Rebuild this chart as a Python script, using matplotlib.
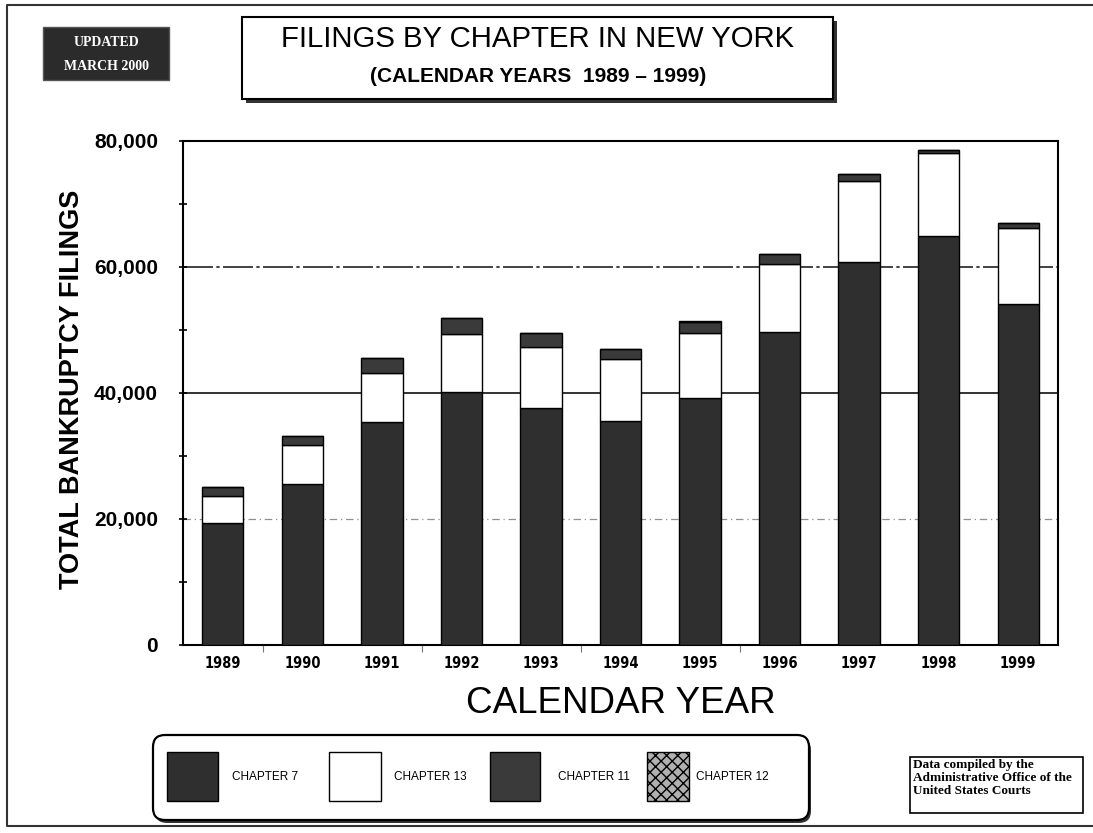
import numpy as np
import matplotlib
matplotlib.use("Agg")
import matplotlib.pyplot as plt
from matplotlib.patches import Rectangle, FancyBboxPatch
from matplotlib.lines import Line2D
from matplotlib.transforms import Affine2D

# data (filings per calendar year)
years = ["1989", "1990", "1991", "1992", "1993", "1994", "1995", "1996", "1997", "1998", "1999"]
ch7 = [19350, 25530, 35420, 40180, 37640, 35580, 39120, 49590, 60690, 64920, 54080]
ch13 = [4280, 6190, 7670, 9090, 9570, 9780, 10420, 10780, 12900, 13060, 12110]
ch11 = [1430, 1430, 2380, 2540, 2220, 1530, 1740, 1640, 1110, 530, 690]
ch12 = [30, 30, 40, 40, 40, 30, 30, 30, 30, 30, 30]
names = ["CHAPTER 7", "CHAPTER 13", "CHAPTER 11", "CHAPTER 12"]
y_ticks = [0, 20000, 40000, 60000, 80000]
y_labels = ["0", "20,000", "40,000", "60,000", "80,000"]

W, H = 1093, 833
SANS = ["Liberation Sans", "DejaVu Sans"]
SERIF = ["Liberation Serif", "DejaVu Serif"]

colors = ["#2f2f2f", "white", "#3a3a3a", "#b0b0b0"]
hatches = [None, None, None, "xxx"]

fig = plt.figure(figsize=(W / 100, H / 100), dpi=100)
# pixel coords, origin top-left
pix = Affine2D().scale(1 / W, -1 / H).translate(0, 1) + fig.transFigure

ax = fig.add_axes([183 / W, 1 - 645 / H, 875 / W, 504.4 / H])

x = np.arange(len(years))
bottom = np.zeros(len(years))
for vals, c, h in zip([ch7, ch13, ch11, ch12], colors, hatches):
    ax.bar(x, vals, 0.52, bottom=bottom, color=c, edgecolor="black",
           linewidth=1.0, hatch=h, zorder=3)
    bottom += np.array(vals)

# horizontal reference lines
ax.axhline(20000, color="#909090", lw=0.9, ls=(0, (6, 3, 1, 3)), zorder=1)
ax.axhline(40000, color="#222222", lw=1.3, zorder=1)
ax.axhline(60000, color="#222222", lw=1.2, ls=(0, (18, 2, 2, 2)), zorder=1)

ax.set_xlim(-0.5, 10.5)
ax.set_ylim(0, 80000)
ax.set_yticks(y_ticks, y_labels)
ax.set_yticks(np.arange(10000, 80000, 20000), minor=True)
ax.tick_params(axis="y", which="both", direction="inout", length=6, width=1.2, pad=15)
for t in ax.get_yticklabels():
    t.set_fontfamily(SANS)
    t.set_fontsize(15)
    t.set_fontweight("bold")

ax.set_xticks(x, years)
ax.set_xticks([0.5, 2.5, 4.5, 6.5], minor=True)
ax.tick_params(axis="x", which="major", length=0, pad=8)
ax.tick_params(axis="x", which="minor", length=5, width=0.8, color="#777777")
for t in ax.get_xticklabels():
    t.set_fontfamily("DejaVu Sans")
    t.set_fontstretch("condensed")
    t.set_fontsize(10.5)
    t.set_fontweight("bold")

for s in ax.spines.values():
    s.set_linewidth(1.5)

ax.set_ylabel("TOTAL BANKRUPTCY FILINGS", fontsize=19.5, fontweight="bold",
              family=SANS, va="center")
ax.yaxis.set_label_coords(-0.127, 0.506)
ax.set_xlabel("CALENDAR YEAR", fontsize=26.5, family=SANS, va="center")
ax.xaxis.set_label_coords(0.5, -0.115)

# outer frame of the page
fig.add_artist(Line2D([1093, 7, 7, 1093], [5, 5, 826, 826], color="#333333",
                      lw=1.5, transform=pix))

# title box with shadow
fig.add_artist(Rectangle((246, 21), 591, 82, facecolor="#333333", edgecolor="none", transform=pix))
fig.add_artist(Rectangle((242, 17), 591, 82, facecolor="white", edgecolor="black", lw=1.5, transform=pix))
fig.text(538 / W, 1 - 39 / H, "FILINGS BY CHAPTER IN NEW YORK", ha="center", va="center",
         fontsize=21.2, family=SANS)
fig.text(538 / W, 1 - 76 / H, "(CALENDAR YEARS  1989 \u2013 1999)", ha="center", va="center",
         fontsize=15, fontweight="bold", family=SANS)

# "updated" badge
fig.add_artist(Rectangle((43, 27), 126, 53, facecolor="#2b2b2b", edgecolor="#555555",
                         lw=1, transform=pix))
fig.text(106 / W, 1 - 42 / H, "UPDATED", ha="center", va="center", color="white",
         fontsize=10, fontweight="bold", family=SERIF)
fig.text(106 / W, 1 - 66 / H, "MARCH 2000", ha="center", va="center", color="white",
         fontsize=10, fontweight="bold", family=SERIF)

# legend box
fig.add_artist(FancyBboxPatch((155, 738), 656, 85, boxstyle="round,pad=0,rounding_size=12",
                              facecolor="#333333", edgecolor="none", transform=pix))
fig.add_artist(FancyBboxPatch((153, 735), 656, 85, boxstyle="round,pad=0,rounding_size=12",
                              facecolor="white", edgecolor="black", lw=1.6, transform=pix))
patch_x = [167, 329, 490, 647]
patch_w = [51, 52, 50, 42]
label_x = [232, 394, 558, 696]
for name, c, h, px0, pw, lx in zip(names, colors, hatches, patch_x, patch_w, label_x):
    fig.add_artist(Rectangle((px0, 752), pw, 49, facecolor=c, edgecolor="black", lw=1.0,
                             hatch=h, transform=pix))
    fig.text(lx / W, 1 - 777 / H, name, ha="left", va="center", fontsize=8.5, family=SANS)

# source note
fig.add_artist(Rectangle((910, 757), 173, 56, facecolor="white", edgecolor="black",
                         lw=1.2, transform=pix))
fig.text(913 / W, 1 - 759 / H, "Data compiled by the\nAdministrative Office of the\nUnited States Courts",
         ha="left", va="top", fontsize=9.5, fontweight="bold", family=SERIF, linespacing=1.1)

fig.savefig("out.png", dpi=100)
